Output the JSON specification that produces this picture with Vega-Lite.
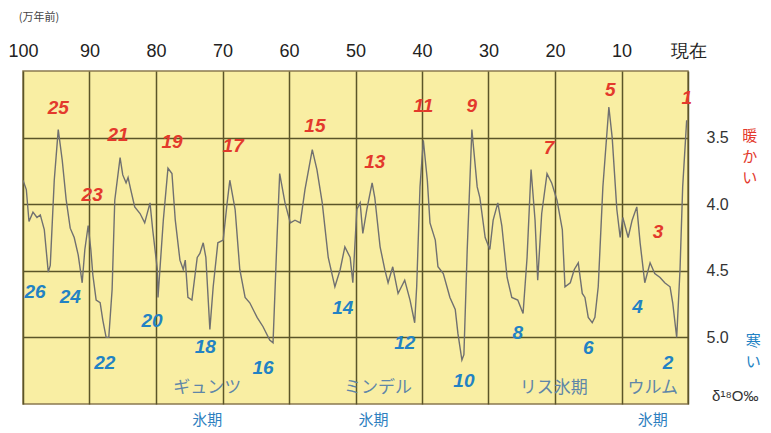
{
  "$schema": "https://vega.github.io/schema/vega-lite/v6.json",
  "width": 665,
  "height": 333,
  "autosize": {"type": "none"},
  "padding": {"left": 23, "top": 71, "right": 83, "bottom": 29},
  "background": "white",
  "config": {
    "view": {"fill": "#f9eea3", "stroke": "#8a7a50", "strokeWidth": 1.5},
    "font": "Liberation Sans"
  },
  "datasets": {
    "curve": [
      {"age": 100.0, "d": 3.82}, {"age": 99.5, "d": 3.89}, {"age": 99.1, "d": 4.13}, {"age": 98.5, "d": 4.06},
      {"age": 97.9, "d": 4.10}, {"age": 97.4, "d": 4.08}, {"age": 96.8, "d": 4.19}, {"age": 96.2, "d": 4.51},
      {"age": 95.9, "d": 4.46}, {"age": 95.3, "d": 3.82}, {"age": 94.7, "d": 3.44}, {"age": 94.1, "d": 3.67},
      {"age": 93.5, "d": 3.97}, {"age": 92.9, "d": 4.18}, {"age": 92.3, "d": 4.25}, {"age": 91.7, "d": 4.38},
      {"age": 91.1, "d": 4.59}, {"age": 90.7, "d": 4.34}, {"age": 90.2, "d": 4.16}, {"age": 89.8, "d": 4.34},
      {"age": 89.5, "d": 4.53}, {"age": 89.0, "d": 4.72}, {"age": 88.4, "d": 4.74}, {"age": 88.0, "d": 4.87},
      {"age": 87.5, "d": 5.00}, {"age": 87.1, "d": 5.00}, {"age": 86.6, "d": 4.64}, {"age": 86.2, "d": 3.97},
      {"age": 85.4, "d": 3.65}, {"age": 85.0, "d": 3.78}, {"age": 84.5, "d": 3.84}, {"age": 84.2, "d": 3.80},
      {"age": 83.8, "d": 3.89}, {"age": 83.2, "d": 4.02}, {"age": 82.4, "d": 4.07}, {"age": 81.7, "d": 4.14},
      {"age": 80.9, "d": 3.99}, {"age": 80.5, "d": 4.19}, {"age": 79.8, "d": 4.49}, {"age": 79.7, "d": 4.70},
      {"age": 78.9, "d": 4.12}, {"age": 78.2, "d": 3.73}, {"age": 77.6, "d": 3.77}, {"age": 77.1, "d": 4.12},
      {"age": 76.4, "d": 4.42}, {"age": 75.9, "d": 4.49}, {"age": 75.6, "d": 4.42}, {"age": 75.2, "d": 4.70},
      {"age": 74.6, "d": 4.72}, {"age": 73.8, "d": 4.40}, {"age": 73.4, "d": 4.37}, {"age": 72.9, "d": 4.29},
      {"age": 72.5, "d": 4.40}, {"age": 71.9, "d": 4.94}, {"age": 71.4, "d": 4.62}, {"age": 70.7, "d": 4.29},
      {"age": 69.9, "d": 4.27}, {"age": 69.3, "d": 3.99}, {"age": 68.9, "d": 3.82}, {"age": 68.1, "d": 4.04},
      {"age": 67.4, "d": 4.49}, {"age": 66.6, "d": 4.70}, {"age": 65.9, "d": 4.74}, {"age": 64.8, "d": 4.85},
      {"age": 63.9, "d": 4.92}, {"age": 62.9, "d": 5.02}, {"age": 62.4, "d": 5.04}, {"age": 61.8, "d": 4.25},
      {"age": 61.4, "d": 3.77}, {"age": 60.6, "d": 3.99}, {"age": 59.8, "d": 4.14}, {"age": 59.1, "d": 4.12},
      {"age": 58.3, "d": 4.14}, {"age": 57.6, "d": 3.89}, {"age": 56.5, "d": 3.59}, {"age": 55.8, "d": 3.74},
      {"age": 55.0, "d": 3.99}, {"age": 54.1, "d": 4.40}, {"age": 53.1, "d": 4.62}, {"age": 52.3, "d": 4.49},
      {"age": 51.6, "d": 4.32}, {"age": 50.8, "d": 4.40}, {"age": 50.4, "d": 4.59}, {"age": 49.8, "d": 4.04},
      {"age": 49.3, "d": 3.99}, {"age": 48.9, "d": 4.22}, {"age": 48.3, "d": 4.04}, {"age": 47.5, "d": 3.84},
      {"age": 47.1, "d": 3.95}, {"age": 46.3, "d": 4.32}, {"age": 45.6, "d": 4.49}, {"age": 45.1, "d": 4.59},
      {"age": 44.4, "d": 4.47}, {"age": 43.6, "d": 4.67}, {"age": 42.6, "d": 4.57}, {"age": 41.8, "d": 4.72},
      {"age": 41.1, "d": 4.89}, {"age": 40.8, "d": 4.62}, {"age": 40.3, "d": 3.87}, {"age": 39.8, "d": 3.52},
      {"age": 39.2, "d": 3.82}, {"age": 38.8, "d": 4.14}, {"age": 38.0, "d": 4.27}, {"age": 37.6, "d": 4.47},
      {"age": 36.8, "d": 4.52}, {"age": 35.8, "d": 4.70}, {"age": 35.0, "d": 4.79}, {"age": 34.6, "d": 4.97},
      {"age": 34.0, "d": 5.17}, {"age": 33.7, "d": 5.13}, {"age": 33.2, "d": 4.34}, {"age": 32.5, "d": 3.44},
      {"age": 31.7, "d": 3.87}, {"age": 31.3, "d": 3.95}, {"age": 30.5, "d": 4.25}, {"age": 29.8, "d": 4.34},
      {"age": 29.3, "d": 4.12}, {"age": 28.6, "d": 3.99}, {"age": 28.0, "d": 4.16}, {"age": 27.2, "d": 4.55},
      {"age": 26.5, "d": 4.70}, {"age": 25.6, "d": 4.72}, {"age": 24.8, "d": 4.82}, {"age": 24.2, "d": 4.40},
      {"age": 23.6, "d": 3.74}, {"age": 23.0, "d": 4.12}, {"age": 22.6, "d": 4.57}, {"age": 22.0, "d": 4.07},
      {"age": 21.2, "d": 3.77}, {"age": 20.5, "d": 3.84}, {"age": 19.7, "d": 3.97}, {"age": 18.9, "d": 4.19},
      {"age": 18.5, "d": 4.62}, {"age": 17.7, "d": 4.59}, {"age": 17.1, "d": 4.49}, {"age": 16.5, "d": 4.44},
      {"age": 15.9, "d": 4.67}, {"age": 15.5, "d": 4.70}, {"age": 15.0, "d": 4.85}, {"age": 14.4, "d": 4.89},
      {"age": 14.0, "d": 4.85}, {"age": 13.5, "d": 4.62}, {"age": 12.8, "d": 3.87}, {"age": 11.9, "d": 3.27},
      {"age": 11.4, "d": 3.50}, {"age": 10.7, "d": 4.04}, {"age": 10.2, "d": 4.25}, {"age": 9.8, "d": 4.10},
      {"age": 9.0, "d": 4.25}, {"age": 8.4, "d": 4.12}, {"age": 7.7, "d": 4.02}, {"age": 7.2, "d": 4.29},
      {"age": 6.5, "d": 4.59}, {"age": 5.7, "d": 4.44}, {"age": 5.0, "d": 4.52}, {"age": 4.2, "d": 4.55},
      {"age": 3.5, "d": 4.59}, {"age": 2.7, "d": 4.62}, {"age": 2.3, "d": 4.74}, {"age": 1.7, "d": 5.00},
      {"age": 1.2, "d": 4.49}, {"age": 0.8, "d": 3.87}, {"age": 0.2, "d": 3.37}
    ],
    "stages": [
      {"age": 94.7, "d": 3.28, "label": "25", "kind": "warm"},
      {"age": 85.7, "d": 3.48, "label": "21", "kind": "warm"},
      {"age": 77.6, "d": 3.53, "label": "19", "kind": "warm"},
      {"age": 68.4, "d": 3.56, "label": "17", "kind": "warm"},
      {"age": 89.6, "d": 3.93, "label": "23", "kind": "warm"},
      {"age": 56.1, "d": 3.41, "label": "15", "kind": "warm"},
      {"age": 47.1, "d": 3.68, "label": "13", "kind": "warm"},
      {"age": 39.8, "d": 3.26, "label": "11", "kind": "warm"},
      {"age": 32.5, "d": 3.26, "label": "9", "kind": "warm"},
      {"age": 20.9, "d": 3.58, "label": "7", "kind": "warm"},
      {"age": 11.7, "d": 3.14, "label": "5", "kind": "warm"},
      {"age": 4.5, "d": 4.21, "label": "3", "kind": "warm"},
      {"age": 0.2, "d": 3.20, "label": "1", "kind": "warm"},
      {"age": 98.2, "d": 4.66, "label": "26", "kind": "cold"},
      {"age": 92.9, "d": 4.70, "label": "24", "kind": "cold"},
      {"age": 87.7, "d": 5.19, "label": "22", "kind": "cold"},
      {"age": 80.6, "d": 4.88, "label": "20", "kind": "cold"},
      {"age": 72.6, "d": 5.07, "label": "18", "kind": "cold"},
      {"age": 63.9, "d": 5.23, "label": "16", "kind": "cold"},
      {"age": 51.9, "d": 4.78, "label": "14", "kind": "cold"},
      {"age": 42.6, "d": 5.04, "label": "12", "kind": "cold"},
      {"age": 33.7, "d": 5.33, "label": "10", "kind": "cold"},
      {"age": 25.6, "d": 4.97, "label": "8", "kind": "cold"},
      {"age": 15.0, "d": 5.08, "label": "6", "kind": "cold"},
      {"age": 7.6, "d": 4.77, "label": "4", "kind": "cold"},
      {"age": 3.0, "d": 5.19, "label": "2", "kind": "cold"}
    ]
  },
  "encoding": {
    "x": {"field": "age", "type": "quantitative", "scale": {"domain": [100, 0], "nice": false, "zero": false}},
    "y": {"field": "d", "type": "quantitative", "scale": {"domain": [3.0, 5.5], "reverse": true, "nice": false, "zero": false}}
  },
  "layer": [
    {
      "data": {"name": "curve"},
      "mark": {"type": "line", "color": "#707070", "strokeWidth": 1.4, "clip": true},
      "encoding": {
        "x": {
          "field": "age", "type": "quantitative",
          "scale": {"domain": [100, 0], "nice": false, "zero": false},
          "axis": {
            "orient": "top", "title": null, "values": [100, 90, 80, 70, 60, 50, 40, 30, 20, 10, 0],
            "labelExpr": "datum.value == 0 ? '現在' : datum.label",
            "labelFont": "Liberation Sans Narrow, Liberation Sans", "labelFontSize": 18, "labelColor": "#222",
            "labelPadding": 11, "labelFlush": false, "labelOverlap": false,
            "domain": false, "ticks": false,
            "grid": true, "gridColor": "#5b5528", "gridWidth": 1.5, "gridOpacity": 1
          }
        },
        "y": {
          "field": "d", "type": "quantitative",
          "scale": {"domain": [3.0, 5.5], "reverse": true, "nice": false, "zero": false},
          "axis": {
            "orient": "right", "title": null, "values": [3.5, 4.0, 4.5, 5.0], "format": ".1f",
            "labelFont": "Liberation Sans Narrow, Liberation Sans", "labelFontSize": 16, "labelColor": "#333",
            "labelPadding": 18, "domain": false, "ticks": false,
            "grid": true, "gridColor": "#5b5528", "gridWidth": 1.5, "gridOpacity": 1
          }
        }
      }
    },
    {
      "data": {"name": "stages"},
      "mark": {"type": "text", "fontSize": 19, "fontWeight": "bold", "fontStyle": "italic", "baseline": "middle", "align": "center"},
      "encoding": {
        "text": {"field": "label"},
        "color": {"field": "kind", "type": "nominal", "legend": null,
          "scale": {"domain": ["warm", "cold"], "range": ["#e3392c", "#2282c4"]}}
      }
    },
    {
      "data": {"values": [
        {"age": 72.3, "d": 5.38, "label": "ギュンツ"},
        {"age": 46.6, "d": 5.38, "label": "ミンデル"},
        {"age": 20.2, "d": 5.38, "label": "リス氷期"},
        {"age": 5.3, "d": 5.38, "label": "ウルム"}
      ]},
      "mark": {"type": "text", "fontSize": 17, "color": "#5f86a8", "font": "Noto Sans CJK JP", "baseline": "middle"},
      "encoding": {"text": {"field": "label"}}
    },
    {
      "data": {"values": [
        {"age": 72.3, "d": 5.62, "label": "氷期"},
        {"age": 47.3, "d": 5.62, "label": "氷期"},
        {"age": 5.3, "d": 5.62, "label": "氷期"}
      ]},
      "mark": {"type": "text", "fontSize": 15, "color": "#2e80c0", "font": "Noto Sans CJK JP", "baseline": "middle"},
      "encoding": {"text": {"field": "label"}}
    },
    {
      "data": {"values": [
        {"age": -9.3, "d": 3.49, "label": "暖|か|い", "kind": "warm"},
        {"age": -9.8, "d": 5.03, "label": "寒|い", "kind": "cold"}
      ]},
      "mark": {"type": "text", "fontSize": 15, "font": "Noto Sans CJK JP", "baseline": "middle", "lineBreak": "|", "lineHeight": 21},
      "encoding": {
        "text": {"field": "label"},
        "color": {"field": "kind", "type": "nominal", "legend": null,
          "scale": {"domain": ["warm", "cold"], "range": ["#e3392c", "#2282c4"]}}
      }
    },
    {
      "data": {"values": [{"age": -7.1, "d": 5.44, "label": "δ¹⁸O‰"}]},
      "mark": {"type": "text", "fontSize": 15, "color": "#333", "baseline": "middle"},
      "encoding": {"text": {"field": "label"}}
    },
    {
      "data": {"values": [{"age": 97.6, "d": 2.60, "label": "(万年前)"}]},
      "mark": {"type": "text", "fontSize": 11, "color": "#444", "font": "Noto Sans CJK JP", "baseline": "middle"},
      "encoding": {"text": {"field": "label"}}
    }
  ]
}
